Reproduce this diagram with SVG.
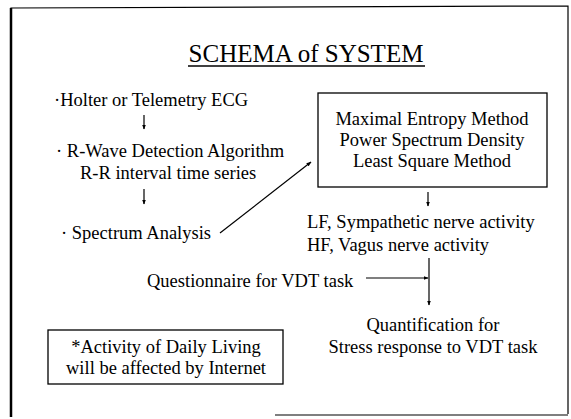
<svg xmlns="http://www.w3.org/2000/svg" width="571" height="419" viewBox="0 0 571 419">
<style>
text{font-family:"Liberation Serif","Times New Roman",serif;font-size:18.5px;fill:#000}
.t{font-size:25px}
.c{text-anchor:middle}
.ln{stroke:#000;stroke-width:1.2;fill:none}
.box{stroke:#000;stroke-width:1.3;fill:#fff}
</style>
<defs>
<marker id="ah" viewBox="0 0 10 10" refX="9" refY="5" markerWidth="5" markerHeight="5" orient="auto" markerUnits="userSpaceOnUse">
<path d="M0,1 L10,5 L0,9 Z" fill="#000"/>
</marker>
</defs>
<rect width="571" height="419" fill="#fff"/>
<g id="frame">
<path d="M11,417 L11,8 L568,6 L568,414" class="ln" stroke-width="2"/>
<line x1="11" y1="8" x2="11" y2="417" stroke="#000" stroke-width="2.5"/>
<line x1="275" y1="415" x2="568" y2="415" stroke="#000" stroke-width="1.2"/>
</g>
<g id="title">
<text class="t c" x="306" y="62">SCHEMA of SYSTEM</text>
<line x1="188" y1="66" x2="425" y2="66" stroke="#000" stroke-width="1.5"/>
</g>
<g id="n-holter"><text x="54" y="106">·Holter or Telemetry ECG</text></g>
<g id="n-rwave"><text x="56" y="157">· R-Wave Detection Algorithm</text><text x="80" y="179">R-R interval time series</text></g>
<g id="n-spectrum"><text x="61" y="239">· Spectrum Analysis</text></g>
<g id="n-methods">
<rect class="box" x="318" y="93" width="229" height="94"/>
<text class="c" x="432" y="125">Maximal Entropy Method</text>
<text class="c" x="432" y="146">Power Spectrum Density</text>
<text class="c" x="432" y="167">Least Square Method</text>
</g>
<g id="n-lfhf"><text x="307" y="228">LF, Sympathetic nerve activity</text><text x="307" y="251">HF, Vagus nerve activity</text></g>
<g id="n-quest"><text x="147" y="287">Questionnaire for VDT task</text></g>
<g id="n-quant"><text class="c" x="433" y="331">Quantification for</text><text class="c" x="433" y="353">Stress response to VDT task</text></g>
<g id="n-adl">
<rect class="box" x="48" y="330" width="235" height="54"/>
<text class="c" x="166" y="353">*Activity of Daily Living</text>
<text class="c" x="166" y="374">will be affected by Internet</text>
</g>
<g id="connectors">
<line class="ln" x1="144" y1="115" x2="144" y2="129" marker-end="url(#ah)"/>
<line class="ln" x1="144" y1="189" x2="144" y2="204" marker-end="url(#ah)"/>
<line class="ln" x1="220" y1="233" x2="311" y2="162" marker-end="url(#ah)"/>
<line class="ln" x1="428" y1="192" x2="428" y2="206" marker-end="url(#ah)"/>
<line class="ln" x1="366" y1="278" x2="428" y2="278" marker-end="url(#ah)"/>
<line class="ln" x1="429" y1="258" x2="429" y2="305" marker-end="url(#ah)"/>
</g>
</svg>
